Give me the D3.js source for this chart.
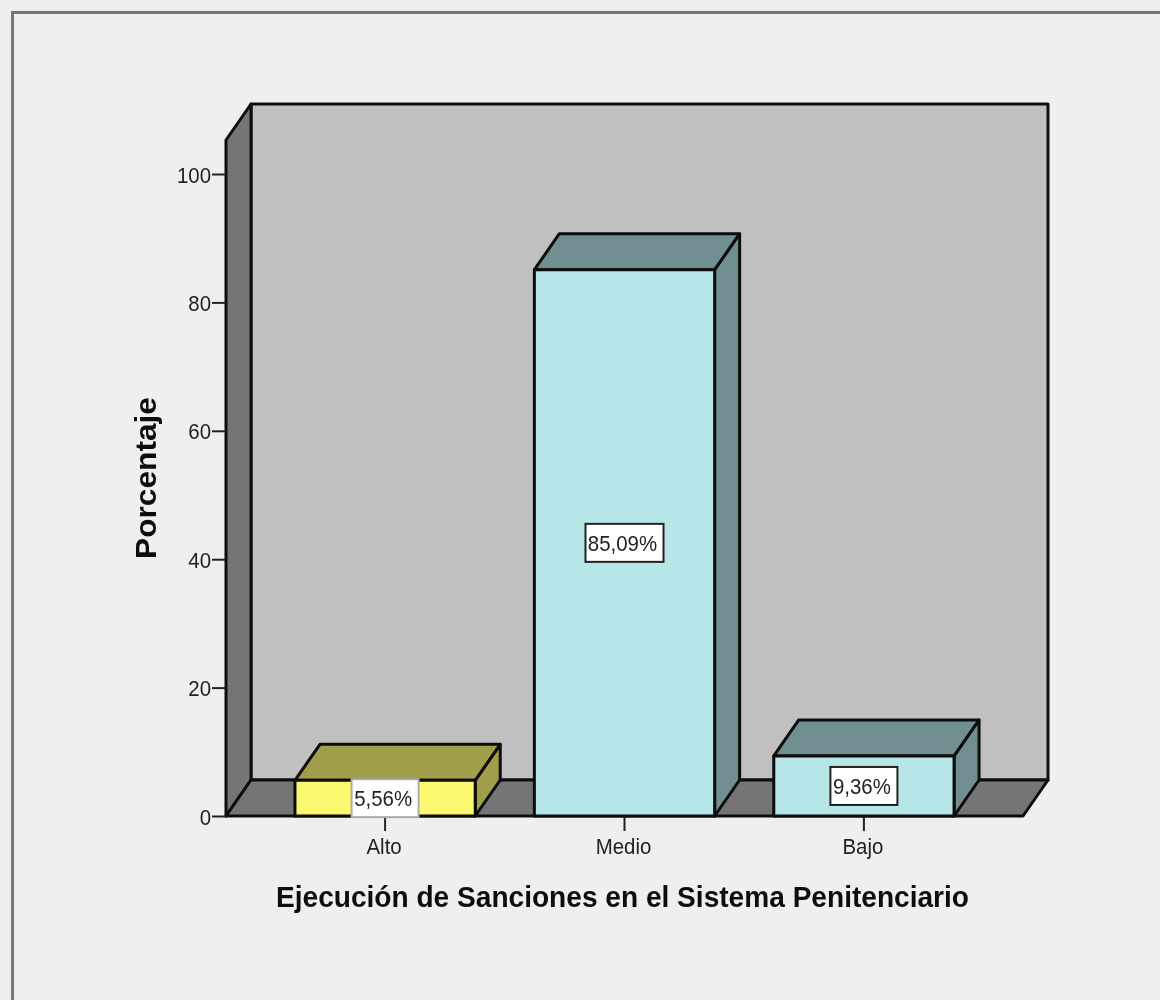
<!DOCTYPE html>
<html><head><meta charset="utf-8">
<script src="https://cdn.jsdelivr.net/npm/d3@7/dist/d3.min.js"></script>
<style>html,body{margin:0;padding:0;background:#fff}svg{display:block}</style>
</head><body><svg id="c" width="1160" height="1000"></svg>
<script>
const categories = ["Alto","Medio","Bajo"];
const percentages = [5.56,85.09,9.36];
const valueLabels = ["5,56%","85,09%","9,36%"];
const frontColors = ["#fbf86f","#b6e6e7","#b6e6e7"];
const sideColors = ["#a09e48","#718e90","#718e90"];
const yTicks = [0,20,40,60,80,100];
const xTitle = "Ejecución de Sanciones en el Sistema Penitenciario";
const yTitle = "Porcentaje";

const svg = d3.select("#c");
const defs = svg.append("defs");
defs.append("filter").attr("id","soft").attr("x",0).attr("y",0).attr("width",1).attr("height",1)
  .append("feGaussianBlur").attr("stdDeviation",0.6);
const root = svg.append("g").attr("filter","url(#soft)");
const font = "'Liberation Sans', Arial, sans-serif";
const dx = 25, dy = -36;
const left = 226, right = 1023;
const y = d3.scaleLinear().domain([0,100]).range([816,174]);
const yTop = 140;
const x = d3.scaleBand().domain(categories).range([left,right]).paddingInner(0.247).paddingOuter(0.288);
const ink = "#0c0c0c";
const sw = 3;

function condense(sel, f){
  sel.each(function(){
    const L = this.getComputedTextLength();
    d3.select(this).attr("textLength",L*f).attr("lengthAdjust","spacingAndGlyphs");
  });
}
function poly(pts,fill){
  return root.append("path").attr("d","M"+pts.map(p=>p.join(",")).join("L")+"Z")
    .attr("fill",fill).attr("stroke",ink).attr("stroke-width",sw).attr("stroke-linejoin","round");
}

root.append("rect").attr("width",1160).attr("height",1000).attr("fill","#efefef");
root.append("path").attr("d","M12.5,1010V12.5H1170").attr("fill","none").attr("stroke","#777").attr("stroke-width",3);

// back wall, side wall, floor
poly([[left+dx,yTop+dy],[right+dx,yTop+dy],[right+dx,y(0)+dy],[left+dx,y(0)+dy]],"#c0c0c0");
poly([[left,yTop],[left+dx,yTop+dy],[left+dx,y(0)+dy],[left,y(0)]],"#757575");
poly([[left,y(0)],[left+dx,y(0)+dy],[right+dx,y(0)+dy],[right,y(0)]],"#757575");

// axes
const yAxis = d3.axisLeft(y).tickValues(yTicks).tickSize(14).tickPadding(1);
const gy = root.append("g").attr("transform",`translate(${left},0)`).call(yAxis);
gy.select(".domain").remove();
gy.selectAll("line").attr("stroke","#222").attr("stroke-width",2);
gy.selectAll("text").attr("font-family",font).attr("font-size",21.5).attr("fill","#222").attr("dy","8px").call(condense,0.95);

const xAxis = d3.axisBottom(x).tickSize(15).tickPadding(7.5);
const gx = root.append("g").attr("transform",`translate(0,${y(0)})`).call(xAxis);
gx.select(".domain").remove();
gx.selectAll("line").attr("stroke","#222").attr("stroke-width",2);
gx.selectAll("text").attr("font-family",font).attr("font-size",21.5).attr("fill","#222").attr("dx",-1).call(condense,0.95);

// bars
categories.forEach((c,i)=>{
  const x0 = x(c), x1 = x0 + x.bandwidth(), yt = y(percentages[i]), yb = y(0);
  poly([[x1,yt],[x1+dx,yt+dy],[x1+dx,yb+dy],[x1,yb]],sideColors[i]);
  poly([[x0,yt],[x0+dx,yt+dy],[x1+dx,yt+dy],[x1,yt]],sideColors[i]);
  poly([[x0,yt],[x1,yt],[x1,yb],[x0,yb]],frontColors[i]);
});

// value labels
categories.forEach((c,i)=>{
  const cx = x(c)+x.bandwidth()/2, cy = (y(percentages[i])+y(0))/2;
  const w = i===1?78:67, h = 38;
  root.append("rect").attr("x",cx-w/2).attr("y",cy-h/2).attr("width",w).attr("height",h)
    .attr("fill","#fff").attr("stroke",i===0?"#aaa":"#222").attr("stroke-width",2);
  root.append("text").attr("x",cx-2).attr("y",cy+8).attr("text-anchor","middle")
    .attr("font-family",font).attr("font-size",21.5).attr("fill","#222").text(valueLabels[i]).call(condense,0.95);
});

// titles
root.append("text").attr("x",622.5).attr("y",907).attr("text-anchor","middle")
  .attr("font-family",font).attr("font-size",29).attr("font-weight","bold").attr("fill","#111")
  .attr("textLength",693).attr("lengthAdjust","spacingAndGlyphs").text(xTitle);
root.append("text").attr("transform","translate(156,478) rotate(-90)").attr("text-anchor","middle")
  .attr("font-family",font).attr("font-size",29).attr("font-weight","bold").attr("fill","#111")
  .attr("textLength",162).attr("lengthAdjust","spacingAndGlyphs").text(yTitle);
</script></body></html>
